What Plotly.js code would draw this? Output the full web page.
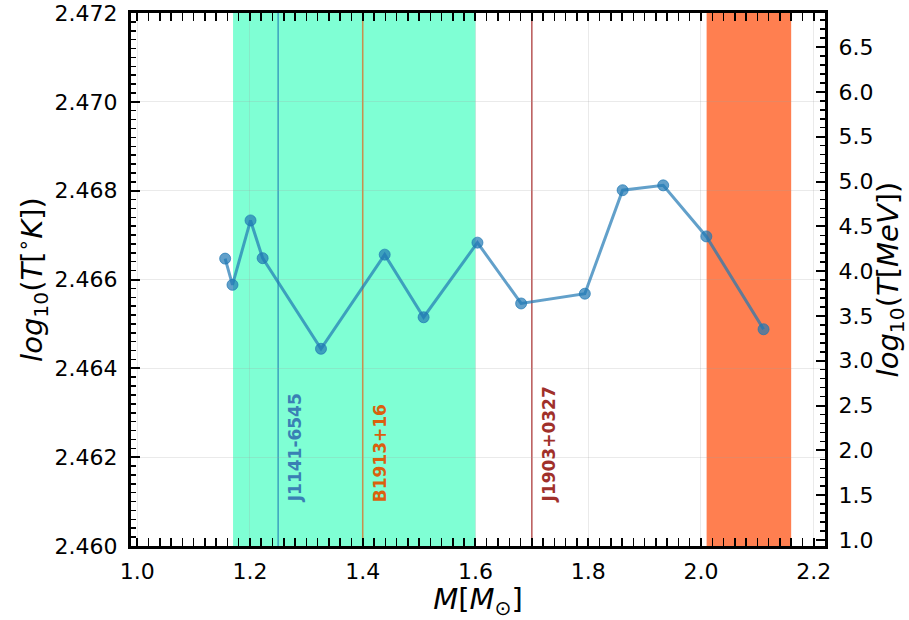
<!DOCTYPE html>
<html>
<head>
<meta charset="utf-8">
<script src="https://cdn.plot.ly/plotly-3.0.1.min.js"></script>
<style>html,body{margin:0;padding:0;background:#fff;} #chart{width:909px;height:620px;}</style>
</head>
<body>
<div id="chart"></div>
<script>
// ---- data ----
const mass = [1.156, 1.169, 1.201, 1.2225, 1.326, 1.439, 1.508, 1.6035, 1.681, 1.794, 1.861, 1.933, 2.0095, 2.111];
const logT = [2.46647, 2.46588, 2.46733, 2.46648, 2.46444, 2.46656, 2.46515, 2.46683, 2.46546, 2.46568, 2.46801, 2.46812, 2.46697, 2.46488];
const pulsarNames = ['J1141-6545', 'B1913+16', 'J1903+0327'];
const pulsarMass = [1.25, 1.40, 1.70];
const bandStart = [1.17, 2.01];
const bandEnd = [1.60, 2.16];
const labelY = 2.46093;

// ---- styles ----
const pulsarLineColors = ['rgba(31,119,180,0.7)', 'rgba(230,110,20,0.8)', 'rgba(165,42,42,0.8)'];
const pulsarTextColors = ['#3a80b4', '#db600e', '#a0302a'];
const bandColors = ['#7fffd4', '#ff7f50'];

const shapes = [];
bandStart.forEach((s, i) => {
  shapes.push({type: 'rect', xref: 'x', yref: 'paper', x0: s, x1: bandEnd[i], y0: 0, y1: 1,
    fillcolor: bandColors[i], line: {width: 0}, layer: 'below'});
});
pulsarMass.forEach((m, i) => {
  shapes.push({type: 'line', xref: 'x', yref: 'paper', x0: m, x1: m, y0: 0, y1: 1,
    line: {color: pulsarLineColors[i], width: 1.5}, layer: 'between'});
});

const annotations = pulsarNames.map((n, i) => ({
  x: pulsarMass[i] + 0.03, y: labelY, xref: 'x', yref: 'y', text: '<b>' + n + '</b>',
  textangle: -90, showarrow: false, xanchor: 'center', yanchor: 'bottom',
  font: {family: 'DejaVu Sans', size: 17, color: pulsarTextColors[i]}
}));

const traces = [
  {x: mass, y: logT, type: 'scatter', mode: 'lines+markers', showlegend: false,
   line: {color: 'rgba(31,119,180,0.7)', width: 3},
   marker: {color: 'rgba(31,119,180,0.7)', size: 11, line: {color: 'rgba(31,119,180,0.7)', width: 1}}},
  {x: [], y: [], yaxis: 'y2', type: 'scatter', mode: 'markers', showlegend: false, hoverinfo: 'skip'}
];

const tickFont = {family: 'DejaVu Sans', size: 22, color: '#000'};
const titleFont = {family: 'DejaVu Sans', size: 29, color: '#000'};
const gridColor = 'rgba(160,160,160,0.22)';

const layout = {
  width: 909, height: 620,
  margin: {l: 131, r: 84, t: 13, b: 74},
  paper_bgcolor: '#fff', plot_bgcolor: '#fff',
  showlegend: false,
  shapes: shapes,
  annotations: annotations,
  xaxis: {
    range: [0.989, 2.22], tick0: 1.0, dtick: 0.2, tickformat: '.1f',
    ticks: 'inside', ticklen: 8, tickwidth: 2, tickcolor: '#000',
    minor: {dtick: 0.02, ticks: 'inside', ticklen: 4, tickwidth: 1.5, tickcolor: '#000', showgrid: false},
    showline: true, linewidth: 3, linecolor: '#000', mirror: 'allticks',
    showgrid: true, gridcolor: gridColor, gridwidth: 1, zeroline: false,
    tickfont: tickFont, ticklabelstandoff: 4,
    title: {text: '<i>M</i>[<i>M</i><sub>⊙</sub>]', font: titleFont, standoff: 4}
  },
  yaxis: {
    range: [2.460, 2.472], tick0: 2.460, dtick: 0.002, tickformat: '.3f',
    ticks: 'inside', ticklen: 9, tickwidth: 2, tickcolor: '#000',
    minor: {dtick: 0.0002, ticks: 'inside', ticklen: 5, tickwidth: 1.5, tickcolor: '#000', showgrid: false},
    showline: true, linewidth: 3, linecolor: '#000', mirror: false,
    showgrid: true, gridcolor: gridColor, gridwidth: 1, zeroline: false,
    tickfont: tickFont, ticklabelstandoff: 6,
    title: {text: '<i>log</i><sub>10</sub>(<i>T</i>[<sup>∘</sup><i>K</i>])', font: titleFont, standoff: 4}
  },
  yaxis2: {
    overlaying: 'y', side: 'right', anchor: 'x',
    range: [0.933, 6.88], tick0: 1.0, dtick: 0.5, tickformat: '.1f',
    ticks: 'inside', ticklen: 9, tickwidth: 2, tickcolor: '#000',
    minor: {dtick: 0.1, ticks: 'inside', ticklen: 5, tickwidth: 1.5, tickcolor: '#000', showgrid: false},
    showline: true, linewidth: 3, linecolor: '#000',
    showgrid: false, zeroline: false,
    tickfont: tickFont, ticklabelstandoff: 6,
    title: {text: '<i>log</i><sub>10</sub>(<i>T</i>[<i>MeV</i>])', font: titleFont, standoff: 6}
  }
};

Plotly.newPlot('chart', traces, layout, {displayModeBar: false, staticPlot: true});
</script>
</body>
</html>
